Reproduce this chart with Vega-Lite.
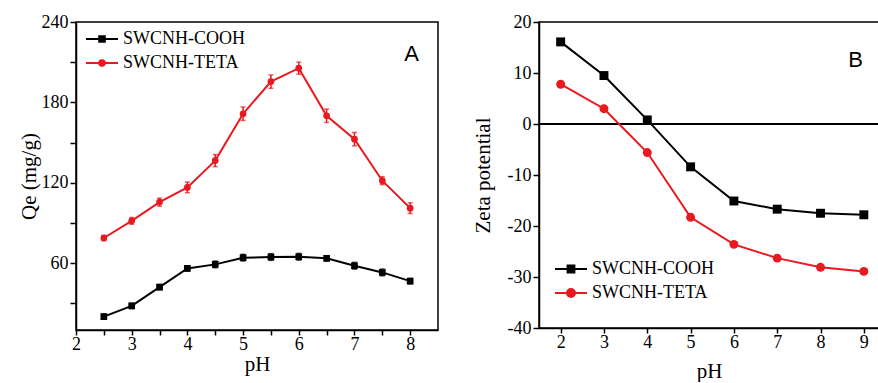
{
  "$schema": "https://vega.github.io/schema/vega-lite/v6.json",
  "padding": {"left": 17, "top": 12, "right": 0, "bottom": 0},
  "autosize": {"type": "pad"},
  "spacing": 32,
  "config": {
    "font": "Liberation Serif",
    "view": {"stroke": "black", "strokeWidth": 1.5},
    "axis": {
      "grid": false, "domainColor": "black", "domainWidth": 1.5,
      "labelFont": "Liberation Serif", "labelFontSize": 18, "labelColor": "black",
      "titleFont": "Liberation Serif", "titleFontSize": 21, "titleFontWeight": "normal", "titleColor": "black",
      "labelFlush": false, "labelOverlap": false
    }
  },
  "datasets": {
    "adsorption": [
      {"pH": 2.5, "qe": 20, "err": 2, "series": "SWCNH-COOH"},
      {"pH": 3, "qe": 28, "err": 2, "series": "SWCNH-COOH"},
      {"pH": 3.5, "qe": 42, "err": 2, "series": "SWCNH-COOH"},
      {"pH": 4, "qe": 56, "err": 2, "series": "SWCNH-COOH"},
      {"pH": 4.5, "qe": 59, "err": 2.5, "series": "SWCNH-COOH"},
      {"pH": 5, "qe": 64, "err": 2.5, "series": "SWCNH-COOH"},
      {"pH": 5.5, "qe": 64.5, "err": 2.5, "series": "SWCNH-COOH"},
      {"pH": 6, "qe": 64.7, "err": 2.5, "series": "SWCNH-COOH"},
      {"pH": 6.5, "qe": 63.5, "err": 2, "series": "SWCNH-COOH"},
      {"pH": 7, "qe": 58, "err": 2.5, "series": "SWCNH-COOH"},
      {"pH": 7.5, "qe": 53, "err": 2.5, "series": "SWCNH-COOH"},
      {"pH": 8, "qe": 46.5, "err": 2, "series": "SWCNH-COOH"},
      {"pH": 2.5, "qe": 78.7, "err": 2, "series": "SWCNH-TETA"},
      {"pH": 3, "qe": 91.5, "err": 2.5, "series": "SWCNH-TETA"},
      {"pH": 3.5, "qe": 105.5, "err": 3, "series": "SWCNH-TETA"},
      {"pH": 4, "qe": 116.5, "err": 4, "series": "SWCNH-TETA"},
      {"pH": 4.5, "qe": 136.5, "err": 4.5, "series": "SWCNH-TETA"},
      {"pH": 5, "qe": 171.5, "err": 5, "series": "SWCNH-TETA"},
      {"pH": 5.5, "qe": 195.5, "err": 5, "series": "SWCNH-TETA"},
      {"pH": 6, "qe": 205.5, "err": 4.5, "series": "SWCNH-TETA"},
      {"pH": 6.5, "qe": 170, "err": 5, "series": "SWCNH-TETA"},
      {"pH": 7, "qe": 152.5, "err": 5, "series": "SWCNH-TETA"},
      {"pH": 7.5, "qe": 121.5, "err": 3, "series": "SWCNH-TETA"},
      {"pH": 8, "qe": 101, "err": 4, "series": "SWCNH-TETA"}
    ],
    "zeta": [
      {"pH": 2, "zeta": 16.1, "series": "SWCNH-COOH"},
      {"pH": 3, "zeta": 9.5, "series": "SWCNH-COOH"},
      {"pH": 4, "zeta": 0.8, "series": "SWCNH-COOH"},
      {"pH": 5, "zeta": -8.4, "series": "SWCNH-COOH"},
      {"pH": 6, "zeta": -15.1, "series": "SWCNH-COOH"},
      {"pH": 7, "zeta": -16.7, "series": "SWCNH-COOH"},
      {"pH": 8, "zeta": -17.5, "series": "SWCNH-COOH"},
      {"pH": 9, "zeta": -17.8, "series": "SWCNH-COOH"},
      {"pH": 2, "zeta": 7.8, "series": "SWCNH-TETA"},
      {"pH": 3, "zeta": 3.0, "series": "SWCNH-TETA"},
      {"pH": 4, "zeta": -5.6, "series": "SWCNH-TETA"},
      {"pH": 5, "zeta": -18.3, "series": "SWCNH-TETA"},
      {"pH": 6, "zeta": -23.6, "series": "SWCNH-TETA"},
      {"pH": 7, "zeta": -26.3, "series": "SWCNH-TETA"},
      {"pH": 8, "zeta": -28.1, "series": "SWCNH-TETA"},
      {"pH": 9, "zeta": -28.9, "series": "SWCNH-TETA"}
    ]
  },
  "hconcat": [
    {
      "width": 362,
      "height": 308,
      "data": {"name": "adsorption"},
      "title": {"text": "A", "anchor": "end", "frame": "group", "font": "Liberation Sans", "fontSize": 22, "fontWeight": "normal", "color": "black", "baseline": "alphabetic", "offset": -70, "dx": -19},
      "encoding": {
        "x": {
          "field": "pH", "type": "quantitative",
          "scale": {"domain": [2, 8.5], "nice": false, "zero": false},
          "axis": {
            "title": "pH",
            "values": [2, 2.5, 3, 3.5, 4, 4.5, 5, 5.5, 6, 6.5, 7, 7.5, 8],
            "labelExpr": "datum.value % 1 === 0 ? '' + datum.value : ''",
            "ticks": true, "tickColor": "#000000", "tickWidth": 1.5, "tickSize": 5,
            "labelPadding": 0, "titlePadding": 0
          }
        },
        "y": {
          "field": "qe", "type": "quantitative",
          "scale": {"domain": [10, 240], "nice": false, "zero": false},
          "axis": {
            "title": "Qe (mg/g)",
            "values": [30, 60, 90, 120, 150, 180, 210, 240],
            "labelExpr": "datum.value % 60 === 0 ? '' + datum.value : ''",
            "ticks": true, "tickColor": "#000000", "tickWidth": 1.5, "tickSize": 6,
            "labelPadding": 2, "titlePadding": 2
          }
        }
      },
      "layer": [
        {
          "mark": {"type": "line", "strokeWidth": 2},
          "encoding": {
            "color": {
              "field": "series", "type": "nominal",
              "scale": {"domain": ["SWCNH-COOH", "SWCNH-TETA"], "range": ["black", "#e8191f"]},
              "legend": {
                "title": null, "orient": "top-left", "offset": 8, "padding": 0,
                "labelFont": "Liberation Serif", "labelFontSize": 18, "labelColor": "black",
                "symbolSize": 256, "labelOffset": 21, "rowPadding": 6,
                "encode": {
                  "symbols": {
                    "update": {
                      "shape": {"signal": "datum.value === 'SWCNH-COOH' ? 'M-0.875,0H3.125M0.775,-0.35H1.475V0.35H0.775Z' : 'M-0.875,0H3.125M1.475,0A0.35,0.35,0,1,1,0.775,0A0.35,0.35,0,1,1,1.475,0Z'"},
                      "fill": {"signal": "datum.value === 'SWCNH-COOH' ? 'black' : '#e8191f'"},
                      "stroke": {"signal": "datum.value === 'SWCNH-COOH' ? 'black' : '#e8191f'"},
                      "strokeWidth": {"value": 2},
                      "size": {"value": 256},
                      "opacity": {"value": 1},
                      "fillOpacity": {"value": 1},
                      "strokeOpacity": {"value": 1}
                    }
                  }
                }
              }
            }
          }
        },
        {
          "mark": {"type": "errorbar", "ticks": true, "thickness": 1.5},
          "encoding": {
            "yError": {"field": "err"},
            "color": {"field": "series", "type": "nominal", "legend": null}
          }
        },
        {
          "mark": {"type": "point", "filled": true, "opacity": 1, "size": 45},
          "encoding": {
            "color": {"field": "series", "type": "nominal", "legend": null},
            "shape": {"field": "series", "type": "nominal", "scale": {"domain": ["SWCNH-COOH", "SWCNH-TETA"], "range": ["square", "circle"]}, "legend": null}
          }
        }
      ]
    },
    {
      "width": 340,
      "height": 306,
      "data": {"name": "zeta"},
      "title": {"text": "B", "anchor": "end", "frame": "group", "font": "Liberation Sans", "fontSize": 22, "fontWeight": "normal", "color": "black", "baseline": "alphabetic", "offset": -76, "dx": -16},
      "layer": [
        {
          "mark": {"type": "rule", "color": "black", "strokeWidth": 1.5},
          "encoding": {"y": {"datum": 0, "type": "quantitative"}}
        },
        {
          "mark": {"type": "line", "strokeWidth": 2},
          "encoding": {
            "x": {
              "field": "pH", "type": "quantitative",
              "scale": {"domain": [1.5, 9.35], "nice": false, "zero": false},
              "axis": {
                "title": "pH",
                "values": [2, 2.5, 3, 3.5, 4, 4.5, 5, 5.5, 6, 6.5, 7, 7.5, 8, 8.5, 9],
                "labelExpr": "datum.value % 1 === 0 ? '' + datum.value : ''",
                "ticks": true, "tickColor": "#000000", "tickWidth": 1.5, "tickSize": 5,
                "labelPadding": 0, "titlePadding": 9
              }
            },
            "y": {
              "field": "zeta", "type": "quantitative",
              "scale": {"domain": [-40, 20], "nice": false, "zero": false},
              "axis": {
                "title": "Zeta potential",
                "values": [-40, -35, -30, -25, -20, -15, -10, -5, 0, 5, 10, 15, 20],
                "labelExpr": "datum.value % 10 === 0 ? '' + datum.value : ''",
                "ticks": true, "tickColor": "#000000", "tickWidth": 1.5, "tickSize": 6,
                "labelPadding": 2, "titlePadding": 14
              }
            },
            "color": {
              "field": "series", "type": "nominal",
              "scale": {"domain": ["SWCNH-COOH", "SWCNH-TETA"], "range": ["black", "#e8191f"]},
              "legend": {
                "title": null, "orient": "bottom-left", "offset": 26, "padding": 0,
                "labelFont": "Liberation Serif", "labelFontSize": 18, "labelColor": "black",
                "symbolSize": 256, "labelOffset": 9, "rowPadding": 6,
                "encode": {
                  "symbols": {
                    "update": {
                      "shape": {"signal": "datum.value === 'SWCNH-COOH' ? 'M-2.375,0H1.625M-0.8,-0.44H0.05V0.44H-0.8Z' : 'M-2.375,0H1.625M0.125,0A0.5,0.5,0,1,1,-0.875,0A0.5,0.5,0,1,1,0.125,0Z'"},
                      "fill": {"signal": "datum.value === 'SWCNH-COOH' ? 'black' : '#e8191f'"},
                      "stroke": {"signal": "datum.value === 'SWCNH-COOH' ? 'black' : '#e8191f'"},
                      "strokeWidth": {"value": 2},
                      "size": {"value": 256},
                      "opacity": {"value": 1},
                      "fillOpacity": {"value": 1},
                      "strokeOpacity": {"value": 1}
                    }
                  }
                }
              }
            }
          }
        },
        {
          "mark": {"type": "point", "filled": true, "opacity": 1, "size": 80},
          "encoding": {
            "x": {"field": "pH", "type": "quantitative"},
            "y": {"field": "zeta", "type": "quantitative"},
            "color": {"field": "series", "type": "nominal", "legend": null},
            "shape": {"field": "series", "type": "nominal", "scale": {"domain": ["SWCNH-COOH", "SWCNH-TETA"], "range": ["square", "circle"]}, "legend": null}
          }
        }
      ]
    }
  ]
}
